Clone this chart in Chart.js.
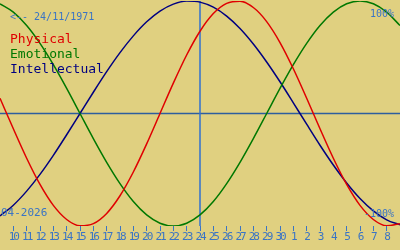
<!DOCTYPE html>
<html lang="en">
<head>
<meta charset="UTF-8">
<title>Biorhythm</title>
<script src="https://cdn.jsdelivr.net/npm/chart.js"></script>
<style>
  html, body { margin: 0; padding: 0; background: #e0d080; }
  #wrap { width: 400px; height: 250px; }
</style>
</head>
<body>
<div id="wrap"><canvas id="bio" width="400" height="250"></canvas></div>
<script>
// days shown: 9 April .. 9 May 2026, index 15 = today (24)
const dayLabels = ['9', '10', '11', '12', '13', '14', '15', '16', '17', '18', '19', '20', '21', '22', '23',
  '24', '25', '26', '27', '28', '29', '30', '1', '2', '3', '4', '5', '6', '7', '8', '9'];
const physical = [0.136, -0.136, -0.398, -0.631, -0.817, -0.942, -0.998, -0.979, -0.888, -0.731, -0.520,
  -0.270, 0, 0.270, 0.520, 0.731, 0.888, 0.979, 0.998, 0.942, 0.817, 0.631, 0.398, 0.136, -0.136,
  -0.398, -0.631, -0.817, -0.942, -0.998, -0.979];
const emotional = [0.975, 0.901, 0.782, 0.623, 0.434, 0.223, 0, -0.223, -0.434, -0.623, -0.782, -0.901,
  -0.975, -1, -0.975, -0.901, -0.782, -0.623, -0.434, -0.223, 0, 0.223, 0.434, 0.623, 0.782, 0.901,
  0.975, 1, 0.975, 0.901, 0.782];
const intellectual = [-0.910, -0.815, -0.690, -0.541, -0.372, -0.189, 0, 0.189, 0.372, 0.541, 0.690,
  0.815, 0.910, 0.972, 0.999, 0.990, 0.945, 0.866, 0.756, 0.618, 0.458, 0.282, 0.095, -0.095, -0.282,
  -0.458, -0.618, -0.756, -0.866, -0.945, -0.990];
const todayIndex = 15;
const birthText = '<-- 24/11/1971';
const monthText = '04-2026';

const BG = '#e0d080';
const BLUE = '#3a74c4';
const MONO = '"DejaVu Sans Mono", monospace';

const toPoints = arr => arr.map((v, i) => ({ x: i, y: v }));

const overlay = {
  id: 'overlay',
  beforeDraw(chart) {
    const c = chart.ctx;
    c.save();
    c.fillStyle = BG;
    c.fillRect(0, 0, chart.width, chart.height);
    c.restore();
    // squeeze the day numbers like the original narrow pixel font
    c.letterSpacing = '-2px';
  },
  afterDraw(chart) {
    const c = chart.ctx;
    c.letterSpacing = '0px';
    c.save();
    c.textBaseline = 'alphabetic';
    c.textAlign = 'left';
    c.font = '10px ' + MONO;
    c.fillStyle = BLUE;
    c.fillText(birthText, 10, 20);
    c.textAlign = 'right';
    c.fillText('100%', 394, 16.5);
    c.fillText('-100%', 394, 217);
    c.textAlign = 'left';
    c.font = '11px ' + MONO;
    c.fillText(monthText, 1, 216);
    c.font = '13px ' + MONO;
    c.fillStyle = '#e00000';
    c.fillText('Physical', 10, 42.5);
    c.fillStyle = '#007800';
    c.fillText('Emotional', 10, 57.5);
    c.fillStyle = '#000080';
    c.fillText('Intellectual', 10, 72.5);
    c.restore();
  }
};

new Chart(document.getElementById('bio'), {
  type: 'line',
  data: {
    datasets: [
      { data: toPoints(physical), borderColor: '#e00000', borderWidth: 1.5, order: 0 },
      { data: toPoints(emotional), borderColor: '#007800', borderWidth: 1.5, order: 0 },
      { data: toPoints(intellectual), borderColor: '#000080', borderWidth: 1.5, order: 0 },
      { data: [{ x: 0, y: 0 }, { x: dayLabels.length - 1, y: 0 }], borderColor: '#2e5e9e', borderWidth: 1.5, order: 2 },
      { data: [{ x: todayIndex, y: -1 }, { x: todayIndex, y: 1 }], borderColor: '#3070d0', borderWidth: 1.5, order: 1 }
    ]
  },
  options: {
    responsive: false,
    animation: false,
    events: [],
    layout: { padding: { top: 1, left: 0, right: 0, bottom: 0 } },
    elements: {
      point: { radius: 0 },
      line: { cubicInterpolationMode: 'monotone', fill: false }
    },
    plugins: { legend: { display: false }, tooltip: { enabled: false } },
    scales: {
      x: {
        type: 'linear',
        min: 0,
        max: dayLabels.length - 1,
        afterBuildTicks: s => {
          s.ticks = dayLabels.slice(1, -1).map((_, i) => ({ value: i + 1 }));
        },
        afterFit: s => { s.height = 24; },
        border: { display: false },
        grid: { drawOnChartArea: false, drawTicks: true, tickLength: 5, color: BLUE, lineWidth: 1 },
        ticks: {
          autoSkip: false,
          maxRotation: 0,
          padding: 0,
          color: BLUE,
          font: { family: MONO, size: 11 },
          callback: v => dayLabels[v]
        }
      },
      y: { display: false, min: -1, max: 1 }
    }
  },
  plugins: [overlay]
});
</script>
</body>
</html>
